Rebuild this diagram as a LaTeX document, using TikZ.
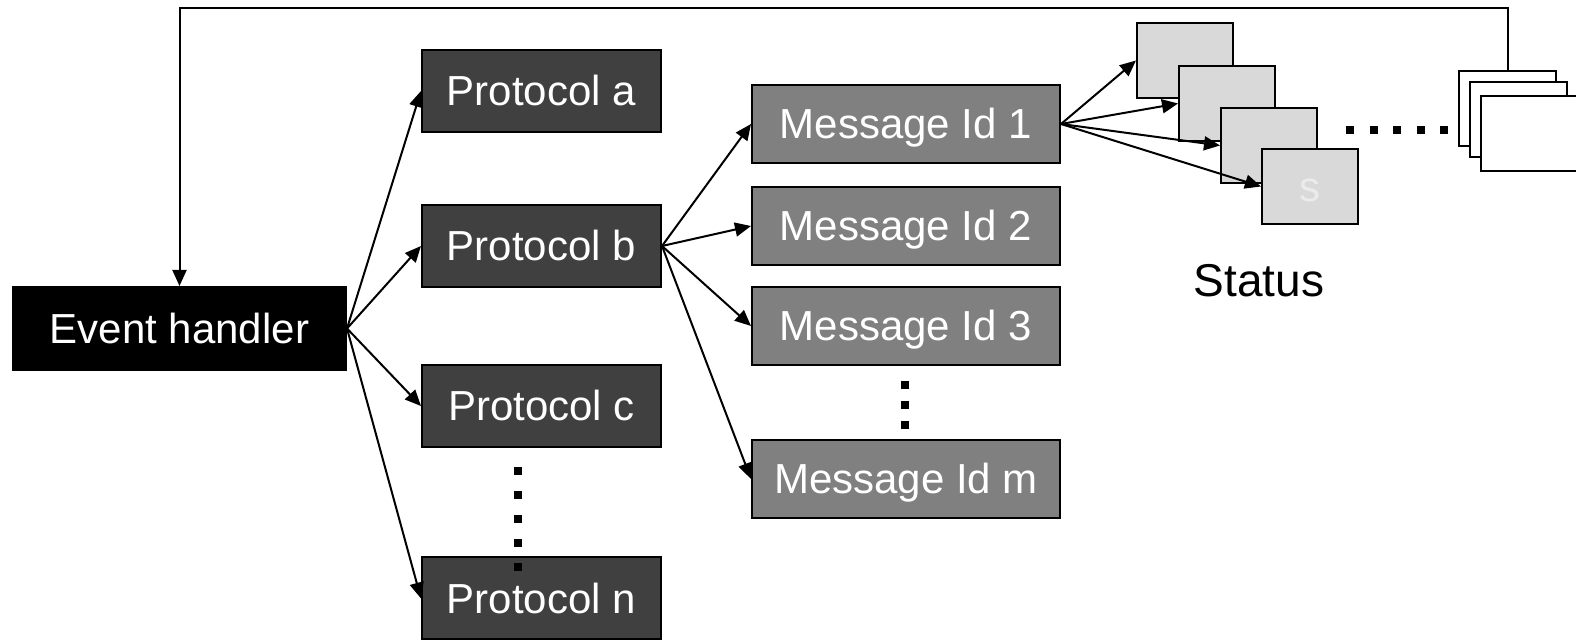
\documentclass[tikz,border=0pt]{standalone}
\usepackage{fontspec}
\setmainfont{Liberation Sans}
\usetikzlibrary{arrows.meta}
\definecolor{protofill}{HTML}{404040}
\definecolor{msgfill}{HTML}{808080}
\definecolor{statfill}{HTML}{D9D9D9}
\definecolor{stattext}{HTML}{EBEBEB}
\tikzset{
  box/.style={draw=black, line width=1pt, inner sep=0pt, text=white,
    font=\fontsize{21}{25}\selectfont, text height=15pt, text depth=0pt},
  handler/.style={box, fill=black, minimum width=166.5pt, minimum height=41.5pt},
  proto/.style={box, fill=protofill, minimum width=119.5pt, minimum height=41pt},
  msg/.style={box, fill=msgfill, minimum width=154pt, minimum height=39pt},
  stat/.style={draw=black, line width=1pt, fill=statfill, inner sep=0pt,
    minimum width=48pt, minimum height=37.5pt, text=stattext,
    font=\fontsize{21}{25}\selectfont, text height=15pt, text depth=0pt},
  page/.style={draw=black, line width=1pt, fill=white, inner sep=0pt,
    minimum width=48.5pt, minimum height=37.5pt},
  link/.style={line width=1pt, -{Triangle[length=8pt, width=7pt]}},
  squaredots/.style={line width=4pt, line cap=butt},
}
\begin{document}
\begin{tikzpicture}[x=0.5pt, y=-0.5pt]
\useasboundingbox (0,0) rectangle (1576,640);
\fill[white] (0,0) rectangle (1576,640);

% main boxes
\node[handler] (eh) at (179.5,328.5) {Event handler};
\node[proto] (pa) at (541.5,91) {Protocol a};
\node[proto] (pb) at (541.5,246) {Protocol b};
\node[proto] (pc) at (541.5,406) {Protocol c};
\node[proto] (pn) at (541.5,598.5) {Protocol n};
\node[msg] (m1) at (906,124) {Message Id 1};
\node[msg] (m2) at (906,226) {Message Id 2};
\node[msg] (m3) at (906,326) {Message Id 3};
\node[msg] (mm) at (906,479) {Message Id m};

% status cards
\node[stat] (s1) at (1185,60.5) {};
\node[stat] (s2) at (1227,103.5) {};
\node[stat] (s3) at (1269,145.5) {};
\node[stat] (s4) at (1310,186.5) {s};
\node[font=\fontsize{23}{27}\selectfont] (status) at (1259,281) {Status};

% stacked pages at the right
\node[page] (pgA) at (1507.5,108.5) {};
\node[page] (pgB) at (1518.5,119.5) {};
\node[page] (pgC) at (1529.5,133.5) {};

% ellipsis marks
\coordinate (pdotA) at (518,467);
\coordinate (pdotB) at (518,571);
\coordinate (mdotA) at (905,381);
\coordinate (mdotB) at (905,429);
\coordinate (hdotA) at (1346,130);
\coordinate (hdotB) at (1448,130);
\draw[squaredots, dash pattern=on 4pt off 8pt] (pdotA) -- (pdotB);
\draw[squaredots, dash pattern=on 4pt off 6pt] (mdotA) -- (mdotB);
\draw[squaredots, dash pattern=on 4pt off 7.75pt] (hdotA) -- (hdotB);

% connectors
\foreach \p in {pa,pb,pc,pn} \draw[link] (eh.east) -- (\p.west);
\foreach \m in {m1,m2,m3,mm} \draw[link] (pb.east) -- (\m.west);
\foreach \s in {s1,s2,s3,s4} \draw[link] (m1.east) -- (\s.west);

% feedback path
\coordinate (top) at (0,8);
\draw[link] (pgA.north) |- (top -| eh.north) -- (eh.north);
\end{tikzpicture}
\end{document}
